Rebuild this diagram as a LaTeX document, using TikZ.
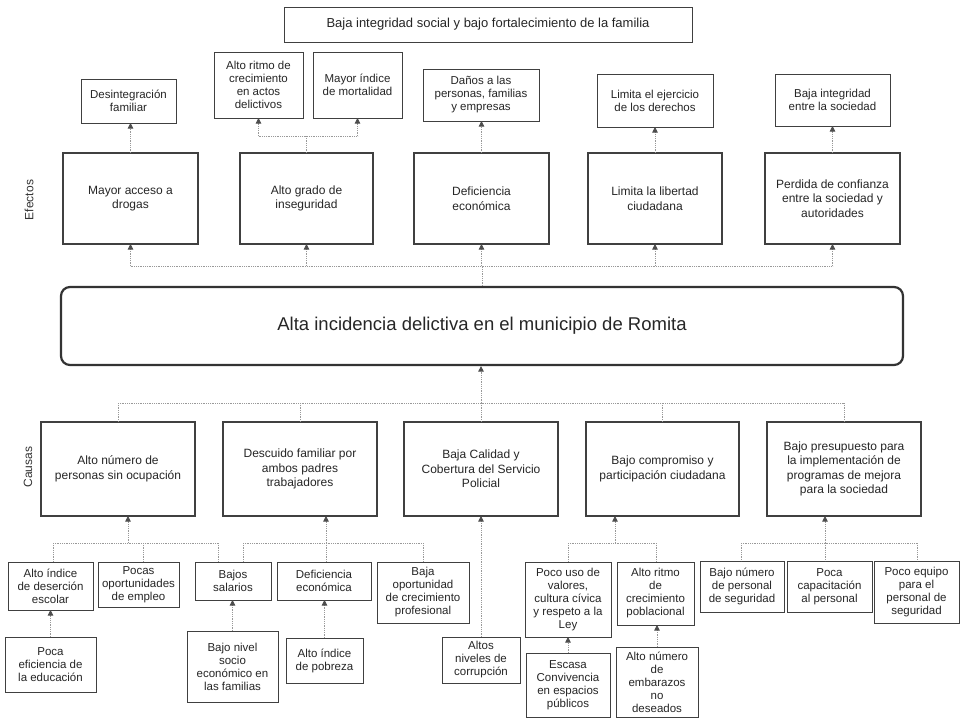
\documentclass[tikz,border=0pt]{standalone}
\usepackage{fontspec}
\setmainfont{Liberation Sans}
\usetikzlibrary{arrows.meta}
\begin{document}
\begin{tikzpicture}[x=1pt,y=-1pt,
  box/.style={draw=black!75, line width=0.9pt, fill=white, align=center, inner sep=0pt, outer sep=0pt, text=black!85, font=\fontsize{11.5}{13}\selectfont},
  bigbox/.style={box, line width=1.5pt, font=\fontsize{12}{14.5}\selectfont},
  sidelabel/.style={rotate=90, text=black!80, font=\fontsize{12}{14}\selectfont},
  conn/.style={draw=black!40, line width=0.8pt, densely dotted},
  arr/.style={conn, -{Triangle[length=5.5pt,width=5.5pt,color=black!70]}},
]
\fill[white] (0,0) rectangle (960,718);
\useasboundingbox (0,0) rectangle (960,718);

% top
\node[box, line width=1pt, minimum width=408pt, minimum height=35pt, font=\fontsize{13}{15}\selectfont] (top) at (488,24.5) {Baja integridad social y bajo fortalecimiento de la familia};

% effect sub boxes
\node[box, minimum width=95pt, minimum height=44pt] (e1s) at (128.5,101) {Desintegración\\familiar};
\node[box, minimum width=89pt, minimum height=66pt] (e2a) at (258.5,85) {Alto ritmo de\\crecimiento\\en actos\\delictivos};
\node[box, minimum width=89pt, minimum height=66pt] (e2b) at (357.5,85) {Mayor índice\\de mortalidad};
\node[box, minimum width=116pt, minimum height=52pt] (e3s) at (481,95) {Daños a las\\personas, familias\\y empresas};
\node[box, minimum width=116pt, minimum height=53pt] (e4s) at (655,100.5) {Limita el ejercicio\\de los derechos};
\node[box, minimum width=115pt, minimum height=52pt] (e5s) at (832.5,100) {Baja integridad\\entre la sociedad};

% effects
\node[bigbox, minimum width=135pt, minimum height=91pt] (e1) at (130.5,198.5) {Mayor acceso a\\drogas};
\node[bigbox, minimum width=133pt, minimum height=91pt] (e2) at (306.5,198.5) {Alto grado de\\inseguridad};
\node[bigbox, minimum width=135pt, minimum height=91pt] (e3) at (481.5,198.5) {Deficiencia\\económica};
\node[bigbox, minimum width=134pt, minimum height=91pt] (e4) at (655,198.5) {Limita la libertad\\ciudadana};
\node[bigbox, minimum width=135pt, minimum height=91pt] (e5) at (832.5,198.5) {Perdida de confianza\\entre la sociedad y\\autoridades};

\node[sidelabel] (lefe) at (29,200) {Efectos};
\node[sidelabel] (lcau) at (28,467) {Causas};

% main problem
\node[draw=black!80, line width=2.2pt, rounded corners=9pt, fill=white, minimum width=842pt, minimum height=78pt, inner sep=0pt, text=black!85, font=\fontsize{18.5}{22}\selectfont] (main) at (482,326) {Alta incidencia delictiva en el municipio de Romita};

% causes
\node[bigbox, minimum width=154pt, minimum height=94pt] (c1) at (118,469) {Alto número de\\personas sin ocupación};
\node[bigbox, minimum width=154pt, minimum height=94pt] (c2) at (300,469) {Descuido familiar por\\ambos padres\\trabajadores};
\node[bigbox, minimum width=154pt, minimum height=94pt] (c3) at (481,469) {Baja Calidad y\\Cobertura del Servicio\\Policial};
\node[bigbox, minimum width=153pt, minimum height=94pt] (c4) at (662.5,469) {Bajo compromiso y\\participación ciudadana};
\node[bigbox, minimum width=154pt, minimum height=94pt] (c5) at (844,469) {Bajo presupuesto para\\la implementación de\\programas de mejora\\para la sociedad};

% sub causes row 1
\node[box, minimum width=85pt, minimum height=48pt] (s1) at (50.5,586) {Alto índice\\de deserción\\escolar};
\node[box, minimum width=81pt, minimum height=45pt] (s2) at (138.5,584.5) {Pocas\\oportunidades\\de empleo};
\node[box, minimum width=76pt, minimum height=38pt] (s3) at (233,581) {Bajos\\salarios};
\node[box, minimum width=94pt, minimum height=38pt] (s4) at (324,581) {Deficiencia\\económica};
\node[box, minimum width=92pt, minimum height=61pt] (s5) at (423,592.5) {Baja\\oportunidad\\de crecimiento\\profesional};
\node[box, minimum width=86pt, minimum height=75pt] (s6) at (568,599.5) {Poco uso de\\valores,\\cultura cívica\\y respeto a la\\Ley};
\node[box, minimum width=77pt, minimum height=63pt] (s7) at (655.5,593.5) {Alto ritmo\\de\\crecimiento\\poblacional};
\node[box, minimum width=84pt, minimum height=51pt] (s8) at (742,586.5) {Bajo número\\de personal\\de seguridad};
\node[box, minimum width=85pt, minimum height=51pt] (s9) at (829.5,586.5) {Poca\\capacitación\\al personal};
\node[box, minimum width=85pt, minimum height=62pt] (s10) at (916.5,592) {Poco equipo\\para el\\personal de\\seguridad};

% sub causes row 2
\node[box, minimum width=91pt, minimum height=55pt] (t1) at (50.5,664.5) {Poca\\eficiencia de\\la educación};
\node[box, minimum width=91pt, minimum height=71pt] (t2) at (232.5,666.5) {Bajo nivel\\socio\\económico en\\las familias};
\node[box, minimum width=77pt, minimum height=45pt] (t3) at (324.5,660.5) {Alto índice\\de pobreza};
\node[box, minimum width=78pt, minimum height=46pt] (t4) at (481,660) {Altos\\niveles de\\corrupción};
\node[box, minimum width=84pt, minimum height=64pt] (t5) at (568,685) {Escasa\\Convivencia\\en espacios\\públicos};
\node[box, minimum width=82pt, minimum height=70pt] (t6) at (657,682) {Alto número\\de\\embarazos\\no\\deseados};

% ---- connectors: effects
\coordinate (ej) at (482,266);
\draw[conn] (main.north) -- (ej);
\draw[conn] (ej -| e1.south) -- (ej -| e5.south);
\foreach \n in {e1,e2,e3,e4,e5} { \draw[arr] (ej -| \n.south) -- (\n.south); }

\draw[arr] (e1.north) -- (e1.north |- e1s.south);
\coordinate (ek) at (306.5,136);
\draw[conn] (e2.north) -- (ek);
\draw[conn] (ek -| e2a.south) -- (ek -| e2b.south);
\draw[arr] (ek -| e2a.south) -- (e2a.south);
\draw[arr] (ek -| e2b.south) -- (e2b.south);
\draw[arr] (e3.north) -- (e3.north |- e3s.south);
\draw[arr] (e4.north) -- (e4.north |- e4s.south);
\draw[arr] (e5.north) -- (e5.north |- e5s.south);

% ---- connectors: causes
\coordinate (cj) at (481,403);
\draw[arr] (cj) -- (cj |- main.south);
\draw[conn] (cj -| c1.north) -- (cj -| c5.north);
\foreach \n in {c1,c2,c3,c4,c5} { \draw[conn] (cj -| \n.north) -- (\n.north); }

% group c1
\coordinate (g1) at (128,543);
\coordinate (g1a) at (53,543);
\coordinate (g1b) at (143,543);
\coordinate (g1c) at (218,543);
\draw[arr] (g1) -- (g1 |- c1.south);
\draw[conn] (g1a) -- (g1c);
\draw[conn] (g1a) -- (g1a |- s1.north);
\draw[conn] (g1b) -- (g1b |- s2.north);
\draw[conn] (g1c) -- (g1c |- s3.north);

% group c2
\coordinate (g2) at (326,543);
\coordinate (g2a) at (243,543);
\coordinate (g2c) at (423,543);
\draw[arr] (g2) -- (g2 |- c2.south);
\draw[conn] (g2a) -- (g2c);
\draw[conn] (g2a) -- (g2a |- s3.north);
\draw[conn] (g2) -- (g2 |- s4.north);
\draw[conn] (g2c) -- (g2c |- s5.north);

% c3
\draw[arr] (t4.north) -- (t4.north |- c3.south);

% group c4
\coordinate (g4) at (615,543);
\coordinate (g4a) at (568,543);
\coordinate (g4b) at (656,543);
\draw[arr] (g4) -- (g4 |- c4.south);
\draw[conn] (g4a) -- (g4b);
\draw[conn] (g4a) -- (g4a |- s6.north);
\draw[conn] (g4b) -- (g4b |- s7.north);

% group c5
\coordinate (g5) at (825,543);
\coordinate (g5a) at (741,543);
\coordinate (g5c) at (917,543);
\draw[arr] (g5) -- (g5 |- c5.south);
\draw[conn] (g5a) -- (g5c);
\draw[conn] (g5a) -- (g5a |- s8.north);
\draw[conn] (g5) -- (g5 |- s9.north);
\draw[conn] (g5c) -- (g5c |- s10.north);

% row 2 arrows
\draw[arr] (t1.north) -- (t1.north |- s1.south);
\draw[arr] (t2.north) -- (t2.north |- s3.south);
\draw[arr] (t3.north) -- (t3.north |- s4.south);
\draw[arr] (t5.north) -- (t5.north |- s6.south);
\draw[arr] (t6.north) -- (t6.north |- s7.south);
\end{tikzpicture}
\end{document}
